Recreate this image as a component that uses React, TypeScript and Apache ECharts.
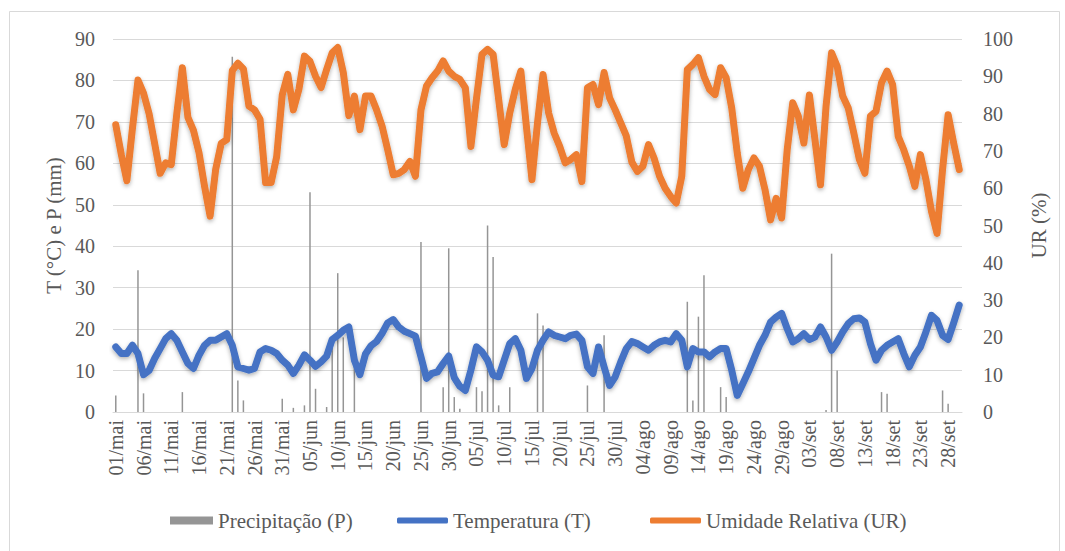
import React, { useEffect, useRef } from "react";
import * as echarts from "echarts";

// ---- categories (daily, 01/mai .. 30/set) ----
const MONTHS = ["mai", "jun", "jul", "ago", "set"];
const MONTH_DAYS = [31, 30, 31, 31, 30];
const CATEGORIES: string[] = MONTHS.flatMap((m, k) =>
  Array.from({ length: MONTH_DAYS[k] }, (_, d) => `${String(d + 1).padStart(2, "0")}/${m}`)
);

// ---- Umidade Relativa (UR, %) ----
const UR_MAI = [77, 69, 62, 76, 89, 85.5, 80, 72, 64, 66.8, 66.3, 80, 92.3, 79, 75.5, 69.5, 60.5, 52.5, 65, 72, 73, 91.5, 93.5, 92, 82, 81, 78.5, 61.5, 61.5, 68.5, 85];
const UR_JUN = [90.5, 81, 86.5, 95.4, 94, 90, 87, 91.8, 96.3, 97.7, 91, 79.5, 84.7, 75.7, 84.7, 84.7, 81, 76.6, 70.3, 63.6, 64, 65, 67.2, 63.2, 81, 87.4, 89.6, 91.4, 94.1, 91.4];
const UR_JUL = [90, 89.2, 86.9, 71.2, 84, 95.9, 97.2, 95.9, 83.8, 71.7, 80.2, 86.5, 91.4, 76.6, 62.3, 77.5, 90.5, 80.2, 74.8, 71.2, 66.8, 67.7, 69, 61.8, 86.9, 87.8, 82.4, 91, 84.2, 81, 77.5];
const UR_AGO = [74, 67, 64.5, 65.9, 71.7, 68.1, 63.2, 60, 57.8, 56, 63.2, 91.8, 93.2, 95, 90, 86.5, 85.1, 92.3, 89.6, 81.5, 69.4, 60, 65, 68.1, 65.9, 59.6, 51.5, 57.3, 52, 70.3, 82.9];
const UR_SET = [79.3, 72.1, 85, 73, 60.9, 82, 96.3, 92.7, 84.7, 81.5, 74.8, 67.7, 64, 79.3, 80.6, 88.3, 91.4, 87.8, 73.9, 70.3, 65.9, 60.5, 69, 62.3, 53.8, 47.9, 65, 79.7, 72.1, 65];

// ---- Temperatura (T, °C) ----
const T_MAI = [15.7, 14.1, 14.1, 16.1, 14.1, 9, 10, 12.9, 15.3, 17.7, 18.9, 17.3, 14.5, 11.7, 10.5, 13.7, 16.1, 17.3, 17.3, 18.1, 18.9, 16.1, 10.9, 10.5, 10.1, 10.5, 14.5, 15.3, 14.9, 14.1, 12.5];
const T_JUN = [11.3, 9.3, 11.3, 13.8, 12.5, 11, 12.1, 13.5, 17.5, 18.5, 19.7, 20.5, 12.5, 9, 14, 16, 17, 19, 21.5, 22.3, 20.5, 19.5, 18.9, 18.3, 13.3, 8.1, 9.3, 9.7, 11.7, 13.5];
const T_JUL = [8.3, 6.2, 5.2, 10.1, 15.7, 14.5, 12.5, 8.9, 8.5, 12.5, 16.5, 17.7, 14.9, 8.1, 10.5, 14.9, 17.3, 19.3, 18.5, 18.1, 17.7, 18.5, 18.8, 17.3, 10.9, 9.3, 15.7, 10.9, 6.4, 8.5, 12.1];
const T_AGO = [15.3, 17, 16.5, 15.7, 14.9, 16.1, 16.9, 17.3, 16.9, 18.9, 17.3, 10.9, 15.3, 14.5, 14.5, 13.3, 14.5, 15.3, 15.3, 10.1, 4, 6.8, 9.7, 12.9, 16.1, 18.5, 21.7, 22.9, 23.8, 20.1, 16.9];
const T_SET = [17.7, 18.9, 17.5, 18.1, 20.5, 18.1, 14.9, 16.9, 19.3, 21.3, 22.5, 22.7, 21.7, 16.5, 12.5, 14.9, 16.1, 16.9, 17.7, 14.1, 10.9, 13.7, 15.7, 19.3, 23.3, 22.1, 18.5, 17.5, 21.5, 25.8];

// ---- Precipitação (P, mm) ----
const P_MAI = [4, 0, 0, 0, 34.2, 4.5, 0, 0, 0, 0, 0, 0, 4.8, 0, 0, 0, 0, 0, 0, 0, 0, 85.7, 7.6, 2.8, 0, 0, 0, 0, 0, 0, 3.2];
const P_JUN = [0, 1, 0, 1.6, 53, 5.6, 0, 1.2, 18, 33.5, 18, 0, 15, 0, 0, 0, 0, 0, 0, 0, 0, 0, 0, 0, 41, 0, 0, 0, 6, 39.5];
const P_JUL = [3.6, 0.8, 0, 0, 6, 5, 45, 37.4, 1.6, 0, 6, 0, 0, 0, 0, 23.8, 20.9, 0, 0, 0, 0, 0, 0, 0, 6.4, 0, 0, 18.5, 0, 0, 0];
const P_AGO = [0, 0, 0, 0, 0, 0, 0, 0, 0, 0, 0, 26.6, 2.8, 23, 33, 0, 0, 6, 3.6, 0, 0, 0, 0, 0, 0, 0, 0, 0, 0, 0, 0];
const P_SET = [0, 0, 0, 0, 0, 0.5, 38.2, 10, 0, 0, 0, 0, 0, 0, 0, 4.8, 4.4, 0, 0, 0, 0, 0, 0, 0, 0, 0, 5.2, 2, 0, 0];

const UR = [...UR_MAI, ...UR_JUN, ...UR_JUL, ...UR_AGO, ...UR_SET];
const TEMP = [...T_MAI, ...T_JUN, ...T_JUL, ...T_AGO, ...T_SET];
const PREC = [...P_MAI, ...P_JUN, ...P_JUL, ...P_AGO, ...P_SET];

const FONT = "'Liberation Serif', 'Times New Roman', serif";
const TEXT = "#595959";
const GRID = "#d9d9d9";
const BLUE = "#4472C4";
const ORANGE = "#ED7D31";
const GRAY = "#959595";

export default function App() {
  const ref = useRef<HTMLDivElement>(null);
  useEffect(() => {
    if (!ref.current) return;
    const chart = echarts.init(ref.current, undefined, { renderer: "svg" });
    const legendText = { color: TEXT, fontSize: 21, fontFamily: FONT };
    chart.setOption({
      animation: false,
      backgroundColor: "#ffffff",
      textStyle: { fontFamily: FONT },
      graphic: [
        {
          type: "rect",
          shape: { x: 9.5, y: 11.5, width: 1050, height: 560 },
          style: { fill: "none", stroke: GRID, lineWidth: 1 },
          silent: true,
        },
      ],
      grid: { left: 113, right: 103, top: 39, bottom: 139, containLabel: false, outerBoundsMode: "none" },
      xAxis: {
        type: "category",
        data: CATEGORIES,
        boundaryGap: true,
        axisLine: { lineStyle: { color: GRID, width: 1 } },
        axisTick: { show: false },
        splitLine: { show: false },
        axisLabel: { interval: 4, rotate: 90, color: TEXT, fontSize: 20, fontFamily: FONT, margin: 8 },
      },
      yAxis: [
        {
          type: "value",
          min: 0,
          max: 90,
          interval: 10,
          name: "T (°C) e P (mm)",
          nameLocation: "middle",
          nameRotate: 90,
          nameGap: 40,
          nameTextStyle: { color: TEXT, fontSize: 21, fontFamily: FONT },
          axisLine: { show: false },
          axisTick: { show: false },
          axisLabel: { color: TEXT, fontSize: 20, fontFamily: FONT, margin: 18 },
          splitLine: { show: true, lineStyle: { color: GRID, width: 1 } },
        },
        {
          type: "value",
          position: "right",
          min: 0,
          max: 100,
          interval: 10,
          name: "UR (%)",
          nameLocation: "middle",
          nameRotate: 90,
          nameGap: 66,
          nameTextStyle: { color: TEXT, fontSize: 21, fontFamily: FONT },
          axisLine: { show: false },
          axisTick: { show: false },
          axisLabel: { color: TEXT, fontSize: 20, fontFamily: FONT, margin: 21 },
          splitLine: { show: false },
        },
      ],
      legend: [
        {
          data: [{ name: "Precipitação (P)", icon: "rect" }],
          left: 170, top: 510, padding: 0, itemWidth: 43, itemHeight: 8,
          textStyle: legendText, selectedMode: false,
        },
        {
          data: [{ name: "Temperatura (T)", icon: "roundRect" }],
          left: 397, top: 510, padding: 0, itemWidth: 51, itemHeight: 6,
          textStyle: legendText, selectedMode: false,
        },
        {
          data: [{ name: "Umidade Relativa (UR)", icon: "roundRect" }],
          left: 650, top: 510, padding: 0, itemWidth: 51, itemHeight: 6,
          textStyle: legendText, selectedMode: false,
        },
      ],
      series: [
        {
          name: "Precipitação (P)",
          type: "bar",
          yAxisIndex: 0,
          data: PREC,
          barWidth: 1.5,
          itemStyle: { color: GRAY },
        },
        {
          name: "Temperatura (T)",
          type: "line",
          yAxisIndex: 0,
          data: TEMP,
          symbol: "none",
          itemStyle: { color: BLUE },
          lineStyle: {
            color: BLUE, width: 7, join: "round", cap: "round",
            shadowColor: "rgba(0,0,0,0.3)", shadowBlur: 4, shadowOffsetY: 2,
          },
        },
        {
          name: "Umidade Relativa (UR)",
          type: "line",
          yAxisIndex: 1,
          data: UR,
          symbol: "none",
          itemStyle: { color: ORANGE },
          lineStyle: {
            color: ORANGE, width: 7, join: "round", cap: "round",
            shadowColor: "rgba(0,0,0,0.3)", shadowBlur: 4, shadowOffsetY: 2,
          },
        },
      ],
    });
    return () => chart.dispose();
  }, []);
  return (
    <div
      ref={ref}
      style={{ position: "fixed", left: 0, top: 0, width: 1065, height: 551, background: "#fff" }}
    />
  );
}
